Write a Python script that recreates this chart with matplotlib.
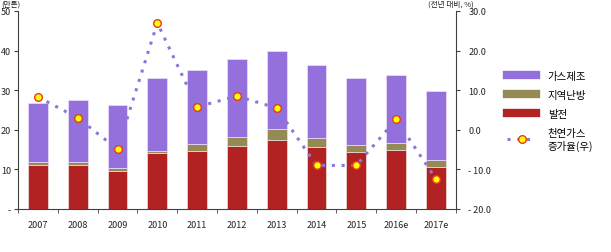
import numpy as np
import matplotlib.pyplot as plt
from matplotlib.lines import Line2D

plt.rcParams['font.family'] = ['Noto Sans CJK KR', 'DejaVu Sans']

PURPLE = "#9370db"
OLIVE  = "#948a54"
RED    = "#b22222"
LINE   = "#8878dc"
GRAY   = "#404040"

years   = ["2007", "2008", "2009", "2010", "2011", "2012", "2013", "2014", "2015", "2016e", "2017e"]
power   = [11.1, 11.1, 9.7, 14.1, 14.6, 16.0, 17.4, 15.7, 14.5, 15.0, 10.7]   # 발전
heating = [0.7, 0.7, 0.6, 0.6, 1.9, 2.2, 2.8, 2.3, 1.7, 1.7, 1.7]          # 지역난방
gasmake = [15.0, 15.7, 15.9, 18.4, 18.5, 19.8, 19.7, 18.4, 16.9, 17.2, 17.4]  # 가스제조
growth  = [8.3, 3.0, -4.9, 27.0, 5.8, 8.5, 5.5, -9.0, -9.0, 2.6, -12.4]     # 천연가스 증가율

fig = plt.figure(figsize=(6.11, 2.53), dpi=100, facecolor="white")
ax = fig.add_axes([0.0295, 0.170, 0.7165, 0.7826])
x = np.arange(len(years))
w = 0.5

ax.bar(x, power, w, color=RED, edgecolor="#f0e0e0", linewidth=0.5, zorder=2)
ax.bar(x, heating, w, bottom=power, color=OLIVE, edgecolor="#f0e0e0", linewidth=0.5, zorder=2)
bottom2 = [a + b for a, b in zip(power, heating)]
ax.bar(x, gasmake, w, bottom=bottom2, color=PURPLE, edgecolor="#f0e0ff", linewidth=0.5, zorder=2)

ax.set_xlim(-0.5, len(years) - 0.5)
ax.set_ylim(0, 50)
ax.set_yticks([0, 10, 20, 30, 40, 50])
ax.set_yticklabels(["-", "10", "20", "30", "40", "50"])
ax.set_xticks(x)
ax.set_xticklabels(years)
ax.set_xticks(np.arange(-0.5, len(years)), minor=True)
ax.tick_params(axis="x", which="major", length=0, labelsize=6.5, pad=8, colors="#222222")
ax.tick_params(axis="x", which="minor", length=3, direction="out", color=GRAY)
ax.tick_params(axis="y", length=3, labelsize=6.5, pad=2, colors=GRAY, labelcolor="#222222")
for s in ["top", "right"]:
    ax.spines[s].set_visible(False)
for s in ["left", "bottom"]:
    ax.spines[s].set_color(GRAY)
    ax.spines[s].set_linewidth(0.8)

ax2 = ax.twinx()
ax2.plot(x, growth, linestyle=(0, (1, 2.2)), color=LINE, linewidth=2.2,
         marker="o", markersize=5.5, markerfacecolor="#ffff00",
         markeredgecolor="#e83a1a", markeredgewidth=1.0, zorder=3)
ax2.set_ylim(-20, 30)
ax2.set_yticks([-20, -10, 0, 10, 20, 30])
ax2.set_yticklabels(["- 20.0", "- 10.0", "0.0", "10.0", "20.0", "30.0"])
ax2.tick_params(axis="y", length=3, labelsize=6.5, pad=6, colors=GRAY, labelcolor="#222222")
for s in ["top", "left", "bottom"]:
    ax2.spines[s].set_visible(False)
ax2.spines["right"].set_color(GRAY)
ax2.spines["right"].set_linewidth(0.8)

# unit labels above the axes
fig.text(0.002, 0.998, "(만톤)", fontsize=5.5, va="top", ha="left", color="#222222")
fig.text(0.700, 0.998, "(전년 대비, %)", fontsize=5.5, va="top", ha="left", color="#222222")

handles = [
    Line2D([0], [0], color=PURPLE, linewidth=6),
    Line2D([0], [0], color=OLIVE, linewidth=6),
    Line2D([0], [0], color=RED, linewidth=6),
    Line2D([0], [0], linestyle=(0, (1, 2.2)), color=LINE, linewidth=2.2,
           marker="o", markersize=5.5, markerfacecolor="#ffff00",
           markeredgecolor="#e83a1a", markeredgewidth=1.0),
]
labels = ["가스제조", "지역난방", "발전", "천연가스\n증가율(우)"]
fig.legend(handles, labels, loc="upper left", bbox_to_anchor=(0.830, 0.715),
           frameon=False, fontsize=7.5, handlelength=2.8, handletextpad=1.1,
           labelspacing=0.85, borderaxespad=0, borderpad=0)

fig.savefig("out.png", dpi=100, facecolor="white")
